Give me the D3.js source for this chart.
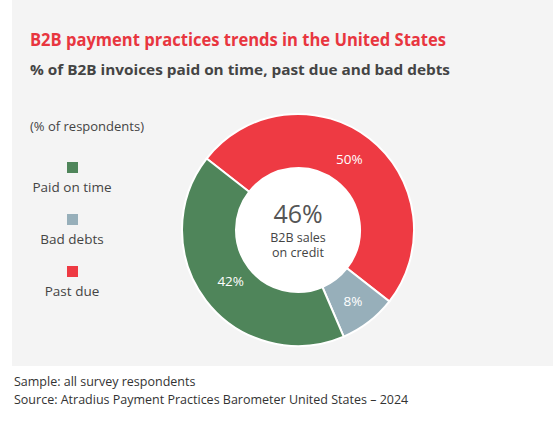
<!DOCTYPE html><html><head><meta charset="utf-8">
<script src="https://cdn.jsdelivr.net/npm/d3@7"></script>
<style>body{margin:0;background:#fff;font-family:"Open Sans",sans-serif}</style></head><body>
<svg id="c" width="553" height="421"></svg>
<script>
const categories=["Past due","Bad debts","Paid on time"];
const values=[50,8,42];
const colors=["#ee3a43","#97afba","#4f855a"];
const legendOrder=["Paid on time","Bad debts","Past due"];
const svg=d3.select("#c");
svg.append("rect").attr("x",12).attr("y",0).attr("width",541).attr("height",366).attr("fill","#f4f4f4");
svg.append("text").attr("x",30).attr("y",46).attr("fill","#e8363f").attr("font-size",18).attr("font-weight","bold").attr("textLength",416).attr("lengthAdjust","spacingAndGlyphs").text("B2B payment practices trends in the United States");
svg.append("text").attr("x",30).attr("y",75).attr("fill","#444").attr("font-size",15).attr("font-weight","bold").attr("textLength",420).attr("lengthAdjust","spacingAndGlyphs").text("% of B2B invoices paid on time, past due and bad debts");
svg.append("text").attr("x",30).attr("y",131).attr("fill","#444").attr("font-size",13).text("(% of respondents)");
const cmap=d3.scaleOrdinal().domain(categories).range(colors);
const ly=d3.scalePoint().domain(legendOrder).range([162,266]);
legendOrder.forEach(k=>{
 svg.append("rect").attr("x",67).attr("y",ly(k)).attr("width",11).attr("height",11).attr("fill",cmap(k));
 svg.append("text").attr("x",72).attr("y",ly(k)+30).attr("text-anchor","middle").attr("fill","#444").attr("font-size",13.5).text(k);
});
const cx=298,cy=230,R=116,r=62;
const start=-52*Math.PI/180;
const pie=d3.pie().sort(null).startAngle(start).endAngle(start+2*Math.PI);
const arcs=pie(values);
const arc=d3.arc().innerRadius(r).outerRadius(R);
const g=svg.append("g").attr("transform",`translate(${cx},${cy})`);
g.selectAll("path").data(arcs).join("path").attr("d",arc).attr("fill",(d,i)=>colors[i]).attr("stroke","#fff").attr("stroke-width",2);
g.append("circle").attr("r",r).attr("fill","#fff");
const la=d3.arc().innerRadius(90).outerRadius(90);
const off=[[-4,0],[0,0],[4,-4]];
g.selectAll("text.v").data(arcs).join("text").attr("class","v").attr("transform",(d,i)=>{const c=la.centroid(d);return `translate(${c[0]+off[i][0]},${c[1]+off[i][1]})`;}).attr("text-anchor","middle").attr("dy","0.35em").attr("fill","#fff").attr("font-size",13.5).text(d=>d.value+"%");
g.append("text").attr("y",-7).attr("text-anchor","middle").attr("fill","#555").attr("font-size",25).text("46%");
g.append("text").attr("y",12).attr("text-anchor","middle").attr("fill","#444").attr("font-size",12.5).text("B2B sales");
g.append("text").attr("y",27).attr("text-anchor","middle").attr("fill","#444").attr("font-size",12.5).text("on credit");
svg.append("text").attr("x",14).attr("y",386).attr("fill","#333").attr("font-size",12.5).text("Sample: all survey respondents");
svg.append("text").attr("x",14).attr("y",404).attr("fill","#333").attr("font-size",12.5).text("Source: Atradius Payment Practices Barometer United States – 2024");
</script></body></html>
